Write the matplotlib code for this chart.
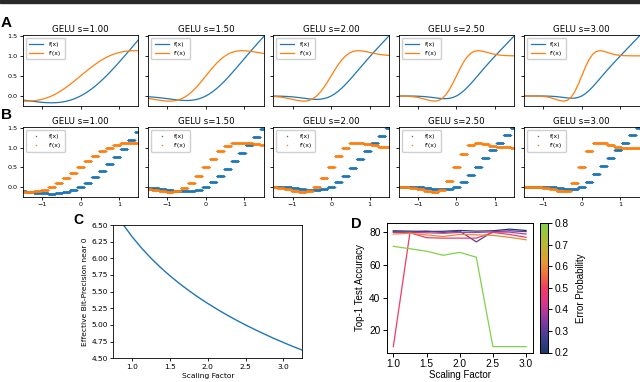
import numpy as np
import matplotlib
matplotlib.use("Agg")
import matplotlib.pyplot as plt
from matplotlib.colors import LinearSegmentedColormap, Normalize
from matplotlib.cm import ScalarMappable
from matplotlib.patches import Rectangle

# ---------------- data ----------------
scales = [1.0, 1.5, 2.0, 2.5, 3.0]
titles = ["GELU s=1.00", "GELU s=1.50", "GELU s=2.00", "GELU s=2.50", "GELU s=3.00"]
x_grid = np.linspace(-1.5, 1.5, 33)  # sample positions (step 3/32)

f_s1 = [-0.1002, -0.1124, -0.1243, -0.1357, -0.1466, -0.1559, -0.1633, -0.1682, -0.1699,
        -0.1679, -0.1614, -0.1498, -0.1327, -0.1095, -0.0798, -0.0434, 0.0,
        0.0504, 0.1077, 0.1718, 0.2423, 0.3189, 0.4011, 0.4884, 0.5801, 0.6755, 0.7742,
        0.8753, 0.9784, 1.0830, 1.1882, 1.2939, 1.3998]
df_s1 = [-0.1275, -0.1288, -0.1266, -0.1199, -0.1081, -0.0905, -0.0668, -0.0364, 0.0008,
         0.0447, 0.0953, 0.1521, 0.2144, 0.2814, 0.3521, 0.4254, 0.5,
         0.5746, 0.6479, 0.7186, 0.7856, 0.8479, 0.9047, 0.9553, 0.9992, 1.0364, 1.0668,
         1.0905, 1.1081, 1.1199, 1.1266, 1.1288, 1.1275]
f_s15 = [-0.0183, -0.0246, -0.0323, -0.0412, -0.0514, -0.0629, -0.0749, -0.0867, -0.0977,
         -0.1066, -0.1122, -0.1130, -0.1076, -0.0947, -0.0730, -0.0416, 0.0,
         0.0521, 0.1145, 0.1866, 0.2674, 0.3558, 0.4503, 0.5497, 0.6523, 0.7570, 0.8626,
         0.9683, 1.0736, 1.1776, 1.2802, 1.3816, 1.4817]
df_s15 = [-0.0592, -0.0735, -0.0884, -0.1033, -0.1165, -0.1256, -0.1288, -0.1239, -0.1081,
          -0.0796, -0.0364, 0.0219, 0.0953, 0.1826, 0.2814, 0.3885, 0.5,
          0.6115, 0.7186, 0.8174, 0.9047, 0.9781, 1.0364, 1.0796, 1.1081, 1.1239, 1.1288,
          1.1256, 1.1165, 1.1033, 1.0884, 1.0735, 1.0592]
f_s2 = [-0.0020, -0.0035, -0.0056, -0.0090, -0.0137, -0.0202, -0.0285, -0.0386, -0.0501,
        -0.0622, -0.0733, -0.0817, -0.0850, -0.0807, -0.0663, -0.0399, 0.0,
        0.0539, 0.1212, 0.2006, 0.2900, 0.3871, 0.4892, 0.5941, 0.6999, 0.8052, 0.9090,
        1.0110, 1.1113, 1.2097, 1.3069, 1.4027, 1.4980]
df_s2 = [-0.0119, -0.0190, -0.0291, -0.0425, -0.0592, -0.0785, -0.0986, -0.1165, -0.1275,
         -0.1266, -0.1081, -0.0668, 0.0008, 0.0953, 0.2144, 0.3521, 0.5,
         0.6479, 0.7856, 0.9047, 0.9992, 1.0668, 1.1081, 1.1266, 1.1275, 1.1165, 1.0986,
         1.0785, 1.0592, 1.0425, 1.0291, 1.0190, 1.0119]
f_s25 = [-0.0001, -0.0003, -0.0007, -0.0014, -0.0028, -0.0052, -0.0089, -0.0148, -0.0228,
         -0.0331, -0.0449, -0.0565, -0.0653, -0.0678, -0.0599, -0.0382, 0.0,
         0.0556, 0.1276, 0.2135, 0.3097, 0.4122, 0.5176, 0.6232, 0.7272, 0.8290, 0.9286,
         1.0261, 1.1222, 1.2173, 1.3118, 1.4059, 1.4999]
df_s25 = [-0.0012, -0.0027, -0.0055, -0.0106, -0.0190, -0.0321, -0.0505, -0.0735, -0.0986,
          -0.1201, -0.1288, -0.1147, -0.0668, 0.0219, 0.1521, 0.3164, 0.5,
          0.6836, 0.8479, 0.9781, 1.0668, 1.1147, 1.1288, 1.1201, 1.0986, 1.0735, 1.0505,
          1.0321, 1.0190, 1.0106, 1.0055, 1.0027, 1.0012]
f_s3 = [0.0000, 0.0000, -0.0001, -0.0002, -0.0004, -0.0010, -0.0023, -0.0048, -0.0092,
        -0.0161, -0.0257, -0.0375, -0.0489, -0.0561, -0.0538, -0.0365, 0.0,
        0.0573, 0.1337, 0.2252, 0.3261, 0.4313, 0.5368, 0.6401, 0.7409, 0.8389, 0.9352,
        1.0302, 1.1246, 1.2186, 1.3125, 1.4062, 1.5000]
df_s3 = [-0.0001, -0.0002, -0.0007, -0.0017, -0.0042, -0.0093, -0.0190, -0.0353, -0.0592,
         -0.0884, -0.1165, -0.1288, -0.1081, -0.0364, 0.0953, 0.2814, 0.5,
         0.7186, 0.9047, 1.0364, 1.1081, 1.1288, 1.1165, 1.0884, 1.0592, 1.0353, 1.0190,
         1.0093, 1.0042, 1.0017, 1.0007, 1.0002, 1.0001]

f_all = [f_s1, f_s15, f_s2, f_s25, f_s3]
df_all = [df_s1, df_s15, df_s2, df_s25, df_s3]

# panel C
c_scale = [0.75, 0.875, 1.0, 1.125, 1.25, 1.375, 1.5, 1.625, 1.75, 1.875, 2.0, 2.125,
           2.25, 2.375, 2.5, 2.625, 2.75, 2.875, 3.0, 3.125, 3.25]
c_bits = [6.737, 6.515, 6.322, 6.152, 6.000, 5.863, 5.737, 5.622, 5.515, 5.415, 5.322,
          5.235, 5.152, 5.074, 5.000, 4.930, 4.863, 4.798, 4.737, 4.678, 4.622]

# panel D
d_scale = [1.0, 1.25, 1.5, 1.75, 2.0, 2.25, 2.5, 2.75, 3.0]
d_prob = [0.2, 0.3, 0.4, 0.5, 0.6, 0.8]
d_acc_02 = [81.0, 80.8, 80.6, 80.7, 81.2, 80.8, 81.0, 82.0, 81.2]
d_acc_03 = [80.5, 80.3, 80.8, 80.0, 80.8, 74.2, 80.5, 81.0, 80.5]
d_acc_04 = [80.0, 80.0, 79.8, 79.5, 80.0, 80.0, 80.3, 80.2, 79.0]
d_acc_05 = [10.0, 79.8, 76.8, 76.5, 76.5, 76.5, 80.0, 78.8, 77.0]
d_acc_06 = [79.0, 79.5, 78.5, 77.5, 78.8, 78.5, 78.2, 77.0, 75.5]
d_acc_08 = [71.5, 70.0, 68.5, 66.0, 67.8, 64.8, 10.0, 10.0, 10.0]
d_acc = [d_acc_02, d_acc_03, d_acc_04, d_acc_05, d_acc_06, d_acc_08]

# ---------------- figure ----------------
W, H = 640, 382
fig = plt.figure(figsize=(W / 100, H / 100), dpi=100)
fig.patches.append(Rectangle((0, 1 - 3 / H), 1, 3 / H, transform=fig.transFigure,
                             color="#2a2a2a", zorder=10))

def ax_px(left, top, right, bottom):
    return fig.add_axes([left / W, 1 - bottom / H, (right - left) / W, (bottom - top) / H])

BLUE, ORANGE = "#1f77b4", "#ff7f0e"
lefts = [22.7 + 125.3 * i for i in range(5)]
pw = 115.7

def style_small(ax, first, show_x):
    ax.set_xlim(-1.5, 1.5)
    ax.set_ylim(-0.25, 1.52)
    ax.set_xticks([-1, 0, 1])
    ax.set_yticks([0.0, 0.5, 1.0, 1.5])
    ax.tick_params(labelsize=4.6, length=2.2, width=0.6, pad=1.5)
    if not first:
        ax.set_yticklabels([])
    if not show_x:
        ax.set_xticklabels([])
    else:
        ax.set_xticklabels(["\u22121", "0", "1"])
    for sp in ax.spines.values():
        sp.set_linewidth(0.6)

def small_legend(ax):
    ax.legend(loc="upper left", fontsize=4.4, handlelength=2.3, borderpad=0.6,
              labelspacing=0.55, handletextpad=0.9, framealpha=1, edgecolor="#d0d0d0",
              fancybox=True)

# Row A
for i in range(5):
    ax = ax_px(lefts[i], 35, lefts[i] + pw, 106)
    ax.plot(x_grid, f_all[i], color=BLUE, lw=0.9, label="f(x)")
    ax.plot(x_grid, df_all[i], color=ORANGE, lw=0.9, label="f'(x)")
    style_small(ax, i == 0, False)
    ax.set_title(titles[i], fontsize=6.2, pad=2.5)
    small_legend(ax)

# Row B (x quantised in steps of 3/16: values held from every other sample)
x_dense = np.linspace(-1.5, 1.5, 1400)
step_x = x_grid[::2]
for i in range(5):
    ax = ax_px(lefts[i], 127.3, lefts[i] + pw, 196.7)
    fq = np.asarray(f_all[i])[::2]
    dq = np.asarray(df_all[i])[::2]
    idx = np.abs(x_dense[:, None] - step_x[None, :]).argmin(axis=1)
    ax.plot(x_dense, fq[idx], "o", color=BLUE, ms=1.05, mew=0, label="f(x)")
    ax.plot(x_dense, dq[idx], "o", color=ORANGE, ms=1.05, mew=0, label="f'(x)")
    style_small(ax, i == 0, True)
    ax.set_title(titles[i], fontsize=6.2, pad=2.5)
    small_legend(ax)

# Panel C
axc = ax_px(113.3, 225, 302.3, 358.3)
axc.plot(c_scale, c_bits, color=BLUE, lw=1.0)
axc.set_xlim(0.75, 3.25)
axc.set_ylim(4.5, 6.5)
axc.set_xticks([1.0, 1.5, 2.0, 2.5, 3.0])
axc.set_yticks([4.5, 4.75, 5.0, 5.25, 5.5, 5.75, 6.0, 6.25, 6.5])
axc.set_yticklabels(["4.50", "4.75", "5.00", "5.25", "5.50", "5.75", "6.00", "6.25", "6.50"])
axc.tick_params(labelsize=5.4, length=2.5, width=0.6, pad=1.5)
axc.set_xlabel("Scaling Factor", fontsize=5.4, labelpad=2)
axc.set_ylabel("Effective Bit-Precision near 0", fontsize=5.4, labelpad=2)
for sp in axc.spines.values():
    sp.set_linewidth(0.6)

# Panel D
cmap = LinearSegmentedColormap.from_list(
    "errp", ["#1b3a6e", "#3a3f8e", "#6c3a9e", "#a83a9c", "#e0358a", "#f03c62",
             "#f0703c", "#e39a30", "#c6b030", "#a4c23a", "#7fd24a"])
norm = Normalize(0.2, 0.8)
LS = "Liberation Sans"
axd = ax_px(386.7, 223.3, 532.7, 352.5)
for p, acc in zip(d_prob, d_acc):
    axd.plot(d_scale, acc, color=cmap(norm(p)), lw=0.9)
axd.set_xticks([1.0, 1.5, 2.0, 2.5, 3.0])
axd.set_yticks([20, 40, 60, 80])
axd.tick_params(labelsize=7.3, length=3, width=0.7, pad=1.5)
for lab in axd.get_xticklabels() + axd.get_yticklabels():
    lab.set_family(LS)
axd.set_xlabel("Scaling Factor", fontsize=7.0, family=LS, labelpad=1.0)
axd.set_ylabel("Top-1 Test Accuracy", fontsize=7.0, family=LS, labelpad=3)
for sp in axd.spines.values():
    sp.set_linewidth(0.7)

cax = ax_px(540, 223.3, 547.5, 352.5)
cb = fig.colorbar(ScalarMappable(norm=norm, cmap=cmap), cax=cax)
cb.set_ticks([0.2, 0.3, 0.4, 0.5, 0.6, 0.7, 0.8])
cb.ax.tick_params(labelsize=7.3, length=3, width=0.7, pad=2)
for lab in cb.ax.get_yticklabels():
    lab.set_family(LS)
cb.outline.set_linewidth(0.7)
cb.set_label("Error Probability", fontsize=7.0, family=LS, labelpad=5)

# panel letters
for txt, xp, yp, fs in [("A", 1, 23, 11), ("B", 1, 115, 11), ("C", 73, 220, 10), ("D", 351, 224, 10.5)]:
    fig.text(xp / W, 1 - yp / H, txt, fontsize=fs, fontweight="bold", family=LS,
             ha="left", va="center")

fig.savefig("out.png", dpi=100)
